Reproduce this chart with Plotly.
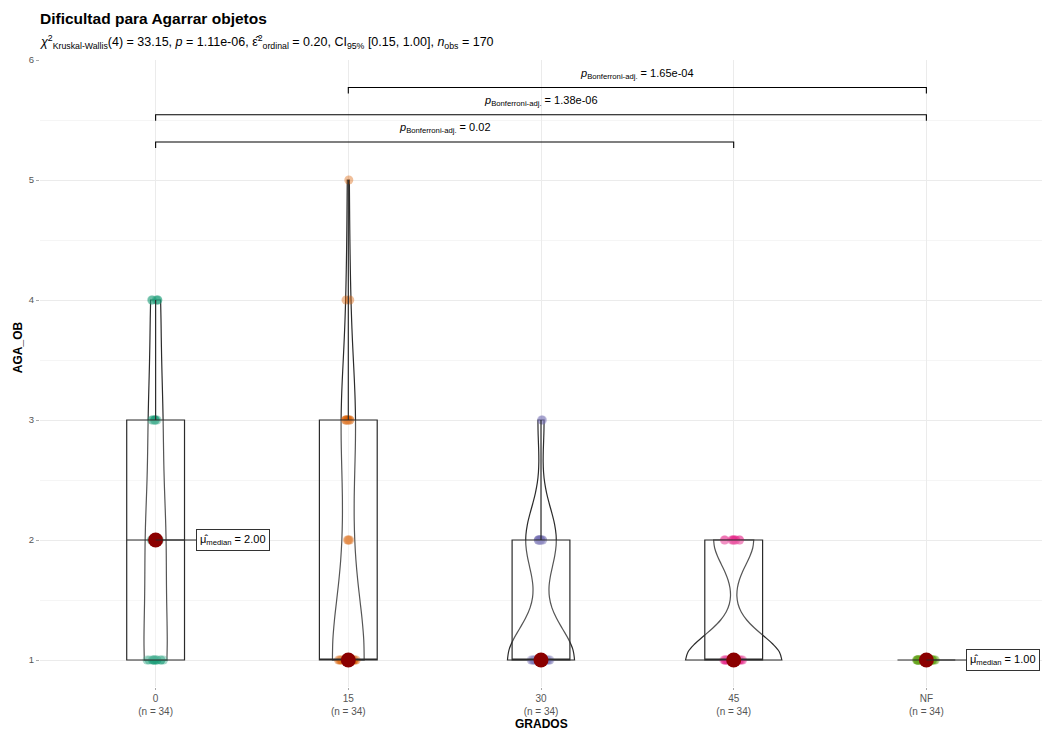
import numpy as np
import plotly.graph_objects as go

# ---------------- data ----------------
groups = ["0", "15", "30", "45", "NF"]
levels = [1, 2, 3, 4, 5]
counts_g0 = [12, 10, 7, 5, 0]
counts_g15 = [19, 4, 8, 2, 1]
counts_g30 = [22, 10, 2, 0, 0]
counts_g45 = [24, 10, 0, 0, 0]
counts_gNF = [34, 0, 0, 0, 0]
group_counts = [counts_g0, counts_g15, counts_g30, counts_g45, counts_gNF]
group_colors = ["#1B9E77", "#D95F02", "#7570B3", "#E7298A", "#66A61E"]

comparisons = [("0", "45"), ("0", "NF"), ("15", "NF")]
comparison_p = ["0.02", "1.38e-06", "1.65e-04"]

title_text = "Dificultad para Agarrar objetos"
subtitle_text = ("<i>χ</i><sup>2</sup><sub>Kruskal-Wallis</sub>(4) = 33.15, <i>p</i> = 1.11e-06, "
                 "ε̂<sup>2</sup><sub>ordinal</sub> = 0.20, CI<sub>95%</sub> [0.15, 1.00], "
                 "<i>n</i><sub>obs</sub> = 170")
x_title = "GRADOS"
y_title = "AGA_OB"


def bw_nrd0(x):
    x = np.asarray(x, dtype=float)
    hi = np.std(x, ddof=1)
    iqr = np.percentile(x, 75) - np.percentile(x, 25)
    lo = min(hi, iqr / 1.34)
    if not lo:
        lo = hi or abs(x[0]) or 1.0
    return 0.9 * lo * len(x) ** (-0.2)


def max_kde(x, bw):
    grid = np.linspace(x.min(), x.max(), 400)
    u = (grid[:, None] - x[None, :]) / bw
    dens = np.exp(-0.5 * u ** 2).sum(axis=1) / (len(x) * bw * np.sqrt(2 * np.pi))
    return dens.max()


FONT = "Liberation Sans, Arial, sans-serif"
LINE = "#2b2b2b"
VIOLIN_WIDTH = 0.5

fig = go.Figure()
obs = [np.repeat(levels, c).astype(float) for c in group_counts]
tick_labels = [f"{g}<br>(n = {len(v)})" for g, v in zip(groups, obs)]
medians = [float(np.median(v)) for v in obs]

# jittered points
for g, v, col in zip(groups, obs, group_colors):
    fig.add_trace(go.Box(
        x=[g] * len(v), y=v, boxpoints="all", jitter=0.35, pointpos=0, width=0.3,
        fillcolor="rgba(0,0,0,0)", line=dict(width=0, color="rgba(0,0,0,0)"),
        whiskerwidth=0,
        marker=dict(color=col, opacity=0.4, size=9, line=dict(width=0)),
        hoverinfo="skip", showlegend=False))

# boxes
for g, v in zip(groups, obs):
    fig.add_trace(go.Box(
        x=[g] * len(v), y=v, boxpoints=False, width=0.3, whiskerwidth=0,
        fillcolor="rgba(255,255,255,0.2)", line=dict(color=LINE, width=1.2),
        hoverinfo="skip", showlegend=False))

# violins: widths scaled by peak density (equal-area scaling)
vio = [(g, v, bw_nrd0(v)) for g, v in zip(groups, obs) if np.ptp(v) > 0]
peaks = [max_kde(v, bw) for _, v, bw in vio]
top_peak = max(peaks)
for (g, v, bw), pk in zip(vio, peaks):
    fig.add_trace(go.Violin(
        x=[g] * len(v), y=v, width=VIOLIN_WIDTH * pk / top_peak,
        spanmode="hard", bandwidth=bw, points=False,
        box=dict(visible=False), meanline=dict(visible=False),
        fillcolor="rgba(255,255,255,0.2)", line=dict(color=LINE, width=1.2),
        hoverinfo="skip", showlegend=False))

# centrality points
fig.add_trace(go.Scatter(
    x=groups, y=medians, mode="markers",
    marker=dict(color="#8B0000", size=15, line=dict(width=0)),
    hoverinfo="skip", showlegend=False))

annotations = []
for g, m in zip(groups, medians):
    annotations.append(dict(
        x=g, y=m, xref="x", yref="y",
        text=f"μ̂<sub>median</sub> = {m:.2f}",
        showarrow=True, arrowhead=0, arrowwidth=1, arrowcolor=LINE,
        ax=77, ay=0, standoff=0, startstandoff=0,
        bordercolor="#333333", borderwidth=1, borderpad=3, bgcolor="white",
        font=dict(family=FONT, size=11, color="black")))

# pairwise comparison brackets
base_level = 5.317
step = 0.227
tip = 0.05
for i, ((a, b), p) in enumerate(zip(comparisons, comparison_p)):
    yl = base_level + i * step
    fig.add_trace(go.Scatter(
        x=[a, a, b, b], y=[yl - tip, yl, yl, yl - tip], mode="lines",
        line=dict(color="black", width=1.1), hoverinfo="skip", showlegend=False))
    xa, xb = groups.index(a), groups.index(b)
    annotations.append(dict(
        x=(xa + xb) / 2, y=yl + 0.113, xref="x", yref="y", showarrow=False,
        text=f"<i>p</i><sub>Bonferroni-adj.</sub> = {p}",
        font=dict(family=FONT, size=11, color="black")))

# titles
annotations.append(dict(
    x=0, y=1, xref="paper", yref="paper", xanchor="left", yanchor="middle",
    xshift=-2, yshift=42, showarrow=False, text=f"<b>{title_text}</b>",
    font=dict(family=FONT, size=15.5, color="black")))
annotations.append(dict(
    x=0, y=1, xref="paper", yref="paper", xanchor="left", yanchor="middle",
    xshift=-2, yshift=18, showarrow=False, text=subtitle_text,
    font=dict(family=FONT, size=12.5, color="black")))
annotations.append(dict(
    x=0.5, y=0, xref="paper", yref="paper", xanchor="center", yanchor="middle",
    yshift=-37, showarrow=False, text=f"<b>{x_title}</b>",
    font=dict(family=FONT, size=12, color="black")))
annotations.append(dict(
    x=0, y=0.542, xref="paper", yref="paper", xanchor="center", yanchor="middle",
    xshift=-22, textangle=-90, showarrow=False, text=f"<b>{y_title}</b>",
    font=dict(family=FONT, size=12, color="black")))

fig.update_layout(
    width=1047, height=730, autosize=False,
    margin=dict(l=40, r=5, t=60, b=43, autoexpand=False),
    paper_bgcolor="white", plot_bgcolor="white",
    boxmode="overlay", violinmode="overlay",
    font=dict(family=FONT),
    showlegend=False,
    annotations=annotations,
    xaxis=dict(
        type="category", categoryorder="array", categoryarray=groups,
        range=[-0.6, 4.6], tickvals=groups, ticktext=tick_labels,
        tickfont=dict(family=FONT, size=10, color="#555555"),
        ticks="outside", ticklen=2, tickcolor="#AAAAAA", automargin=False,
        showgrid=True, gridcolor="#EBEBEB", gridwidth=1,
        zeroline=False, showline=False),
    yaxis=dict(
        range=[0.775, 6.0], tick0=0, dtick=1, automargin=False,
        tickfont=dict(family=FONT, size=9.5, color="#555555"),
        ticks="outside", ticklen=3, tickcolor="#AAAAAA",
        showgrid=True, gridcolor="#EBEBEB", gridwidth=1,
        minor=dict(tick0=0, dtick=0.5, showgrid=True, gridcolor="#F5F5F5", ticks=""),
        zeroline=False, showline=False),
)

fig.write_html("out.html",
               config={"displayModeBar": False},
               post_script="document.body.style.margin='0px';"
                           "document.body.style.overflow='hidden';")
